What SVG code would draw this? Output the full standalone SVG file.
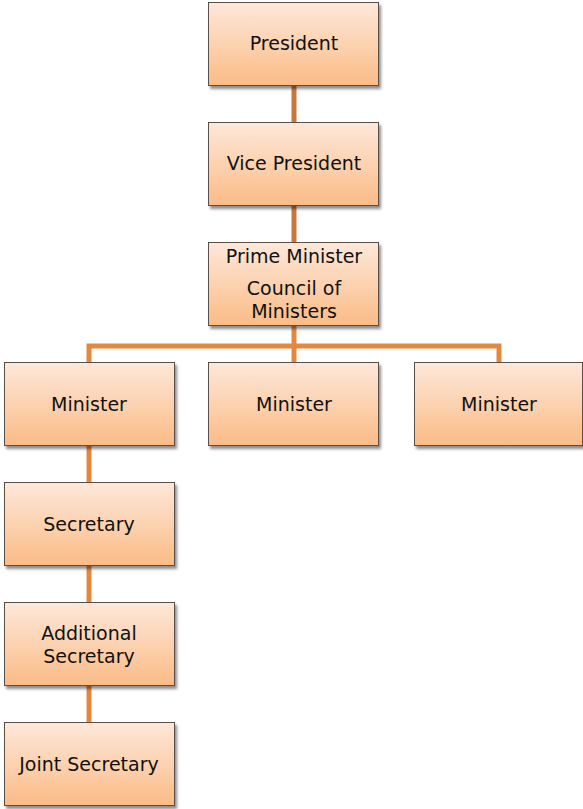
<svg xmlns="http://www.w3.org/2000/svg" width="583" height="809" viewBox="0 0 583 809">
<style>
.box{fill:url(#g);stroke:#5a5048;stroke-width:1;filter:url(#sh)}
.t{font-family:"DejaVu Sans",Verdana,sans-serif;font-size:19px;fill:#111;text-anchor:middle}
.c1{stroke:#c8783c;stroke-width:5;fill:none}
.c2{stroke:#e5883f;stroke-width:5;fill:none}
</style>
<defs>
<linearGradient id="g" x1="0" y1="0" x2="0" y2="1">
<stop offset="0" stop-color="#fde8da"/>
<stop offset="0.5" stop-color="#fcd2b0"/>
<stop offset="1" stop-color="#fbbb86"/>
</linearGradient>
<filter id="sh" x="-10%" y="-10%" width="130%" height="130%">
<feGaussianBlur in="SourceAlpha" stdDeviation="1.5"/>
<feOffset dx="2" dy="3" result="b"/>
<feComponentTransfer><feFuncA type="linear" slope="0.45"/></feComponentTransfer>
<feMerge><feMergeNode/><feMergeNode in="SourceGraphic"/></feMerge>
</filter>
</defs>
<g id="connectors">
<line class="c1" x1="294" y1="85" x2="294" y2="122"/>
<line class="c1" x1="294" y1="205" x2="294" y2="242"/>
<line class="c2" x1="294" y1="326" x2="294" y2="362"/>
<polyline class="c2" points="89,362 89,346 499,346 499,362"/>
<line class="c2" x1="89" y1="446" x2="89" y2="482"/>
<line class="c2" x1="89" y1="566" x2="89" y2="602"/>
<line class="c2" x1="89" y1="686" x2="89" y2="722"/>
</g>
<g id="president"><rect class="box" x="208.5" y="2.5" width="170" height="83"/><text class="t" x="294" y="50">President</text></g>
<g id="vice-president"><rect class="box" x="208.5" y="122.5" width="170" height="83"/><text class="t" x="294" y="170">Vice President</text></g>
<g id="prime-minister"><rect class="box" x="208.5" y="242.5" width="170" height="83"/><text class="t" x="294" y="263">Prime Minister</text><text class="t" x="294" y="295">Council of</text><text class="t" x="294" y="318">Ministers</text></g>
<g id="minister-1"><rect class="box" x="4.5" y="362.5" width="170" height="83"/><text class="t" x="89" y="411">Minister</text></g>
<g id="minister-2"><rect class="box" x="208.5" y="362.5" width="170" height="83"/><text class="t" x="294" y="411">Minister</text></g>
<g id="minister-3"><rect class="box" x="414.5" y="362.5" width="168" height="83"/><text class="t" x="499" y="411">Minister</text></g>
<g id="secretary"><rect class="box" x="4.5" y="482.5" width="170" height="83"/><text class="t" x="89" y="531">Secretary</text></g>
<g id="additional-secretary"><rect class="box" x="4.5" y="602.5" width="170" height="83"/><text class="t" x="89" y="640">Additional</text><text class="t" x="89" y="663">Secretary</text></g>
<g id="joint-secretary"><rect class="box" x="4.5" y="722.5" width="170" height="83"/><text class="t" x="89" y="771">Joint Secretary</text></g>
</svg>
